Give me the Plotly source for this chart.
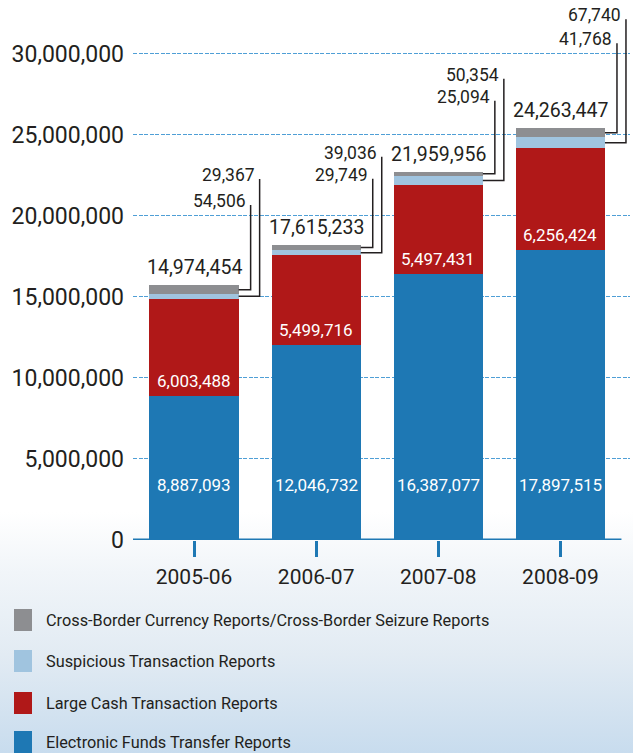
import plotly.graph_objects as go

# ---------------- data ----------------
years = ["2005-06", "2006-07", "2007-08", "2008-09"]
eft = [8887093, 12046732, 16387077, 17897515]       # Electronic Funds Transfer Reports
lctr = [6003488, 5499716, 5497431, 6256424]         # Large Cash Transaction Reports
strs = [29367, 39036, 50354, 67740]                 # Suspicious Transaction Reports
cbcr = [54506, 29749, 25094, 41768]                 # Cross-Border Currency / Seizure Reports
totals = [14974454, 17615233, 21959956, 24263447]
# the thin segments are drawn exaggerated in the source picture; heights read from it
strs_drawn = [270000, 330000, 560000, 680000]
cbcr_drawn = [560000, 330000, 270000, 560000]
y_ticks = [0, 5000000, 10000000, 15000000, 20000000, 25000000, 30000000]

# ---------------- style / layout constants ----------------
W, H = 633, 753
ML, MR, MT, MB = 133, 3, 13, 213
XMIN, XMAX = -0.5, 3.57
YMAX = 32.5e6
BARW = 0.73
C_EFT, C_LCTR, C_STR, C_CB = "#1e78b4", "#b01818", "#a0c4df", "#8d8e91"
TXT = "#231f20"
FONT = "Roboto, Liberation Sans, Arial, sans-serif"

PW, PH = W - ML - MR, H - MT - MB
px_x = PW / (XMAX - XMIN)   # pixels per category unit
px_y = PH / YMAX            # pixels per value unit

def paper_x(px):
    return (px - ML) / PW

def paper_y(py):  # py measured from top of figure
    return (H - MB - py) / PH

fig = go.Figure()
series = [
    ("Electronic Funds Transfer Reports", eft, eft, C_EFT),
    ("Large Cash Transaction Reports", lctr, lctr, C_LCTR),
    ("Suspicious Transaction Reports", strs_drawn, strs, C_STR),
    ("Cross-Border Currency Reports/Cross-Border Seizure Reports", cbcr_drawn, cbcr, C_CB),
]
for name, heights, real, col in series:
    fig.add_trace(go.Bar(
        x=list(range(len(years))), y=heights, name=name, marker_color=col,
        marker_line_width=0, width=BARW, customdata=real,
        hovertemplate="%{customdata:,}<extra>" + name + "</extra>",
        showlegend=False,
    ))

annotations = []
shapes = []

# x axis baseline
shapes.append(dict(type="line", xref="x", yref="y", x0=-0.5, x1=3.5, y0=0, y1=0,
                   line=dict(color=C_EFT, width=3), layer="above"))

# labels inside bars
for i in range(len(years)):
    annotations.append(dict(x=i, y=0, xref="x", yref="y", yshift=55, text=f"{eft[i]:,}",
                            showarrow=False, font=dict(family=FONT, size=17, color="white"),
                            yanchor="middle"))
    annotations.append(dict(x=i, y=eft[i], xref="x", yref="y", yshift=15, text=f"{lctr[i]:,}",
                            showarrow=False, font=dict(family=FONT, size=17, color="white"),
                            yanchor="middle"))

# totals and leader-line labels
top_label_lift = [110, 92, 97, 113]   # px above bar top (layout positions)
low_label_lift = [84, 70, 75, 89]
for i in range(len(years)):
    red_top = eft[i] + lctr[i]
    str_mid = red_top + strs_drawn[i] / 2
    bar_top = red_top + strs_drawn[i] + cbcr_drawn[i]
    cb_mid = red_top + strs_drawn[i] + cbcr_drawn[i] / 2
    annotations.append(dict(x=i, y=bar_top, xref="x", yref="y", yshift=4, text=f"{totals[i]:,}",
                            showarrow=False, yanchor="bottom",
                            font=dict(family=FONT, size=19.5, color=TXT)))
    edge = i + BARW / 2
    x_out = edge + 21 / px_x
    x_in = edge + 12 / px_x
    y_top_lab = bar_top + top_label_lift[i] / px_y
    y_low_lab = bar_top + low_label_lift[i] / px_y
    annotations.append(dict(x=x_out, y=y_top_lab, xref="x", yref="y", xshift=-3, text=f"{strs[i]:,}",
                            showarrow=False, xanchor="right", yanchor="middle",
                            font=dict(family=FONT, size=17.5, color=TXT)))
    annotations.append(dict(x=x_in, y=y_low_lab, xref="x", yref="y", xshift=-3, text=f"{cbcr[i]:,}",
                            showarrow=False, xanchor="right", yanchor="middle",
                            font=dict(family=FONT, size=17.5, color=TXT)))
    for xl, ylab, ymid in [(x_out, y_top_lab, str_mid), (x_in, y_low_lab, cb_mid)]:
        shapes.append(dict(type="path", xref="x", yref="y",
                           path=f"M {xl} {ylab - 4 / px_y} L {xl} {ymid} L {edge} {ymid}",
                           line=dict(color=TXT, width=1.5)))

# custom legend
legend_items = [
    ("Cross-Border Currency Reports/Cross-Border Seizure Reports", C_CB, 620),
    ("Suspicious Transaction Reports", C_STR, 661),
    ("Large Cash Transaction Reports", C_LCTR, 703),
    ("Electronic Funds Transfer Reports", C_EFT, 742),
]
for text, col, cy in legend_items:
    shapes.append(dict(type="rect", xref="paper", yref="paper",
                       x0=paper_x(14), x1=paper_x(32), y0=paper_y(cy - 11), y1=paper_y(cy + 11),
                       fillcolor=col, line_width=0, layer="above"))
    annotations.append(dict(x=paper_x(44), y=paper_y(cy), xref="paper", yref="paper", text=text,
                            showarrow=False, xanchor="left", yanchor="middle",
                            font=dict(family=FONT, size=16.3, color=TXT)))

bg_svg = ("data:image/svg+xml;utf8,"
          "<svg xmlns='http://www.w3.org/2000/svg' width='633' height='753' preserveAspectRatio='none'>"
          "<defs><linearGradient id='g' x1='0' y1='0' x2='0' y2='1'>"
          "<stop offset='0' stop-color='%23ffffff'/>"
          "<stop offset='0.68' stop-color='%23ffffff'/>"
          "<stop offset='0.76' stop-color='%23f1f5f9'/>"
          "<stop offset='0.87' stop-color='%23e2ebf3'/>"
          "<stop offset='1' stop-color='%23c8dcee'/>"
          "</linearGradient></defs><rect width='633' height='753' fill='url(%23g)'/></svg>")

fig.update_layout(
    width=W, height=H, barmode="stack",
    margin=dict(l=ML, r=MR, t=MT, b=MB, pad=0),
    paper_bgcolor="white", plot_bgcolor="rgba(0,0,0,0)",
    shapes=shapes, annotations=annotations,
    images=[dict(source=bg_svg, xref="paper", yref="paper",
                 x=paper_x(0), y=paper_y(0), sizex=W / PW, sizey=H / PH,
                 xanchor="left", yanchor="top", sizing="stretch", layer="below")],
    xaxis=dict(range=[XMIN, XMAX], tickmode="array", tickvals=list(range(len(years))), ticktext=years,
               showline=False, ticks="outside", ticklen=16,
               tickwidth=2.5, tickcolor=C_EFT, showgrid=False, zeroline=False,
               tickfont=dict(family=FONT, size=21, color=TXT), ticklabelstandoff=2),
    yaxis=dict(range=[0, YMAX], tickmode="array", tickvals=y_ticks,
               ticktext=[f"{v:,}" for v in y_ticks], showgrid=True, gridcolor="#4f9fd6",
               gridwidth=1, griddash="4px,1.5px", zeroline=False, showline=False,
               tickfont=dict(family=FONT, size=23, color=TXT), ticklabelstandoff=8),
    hovermode="closest",
)

fig.write_html("out.html")
